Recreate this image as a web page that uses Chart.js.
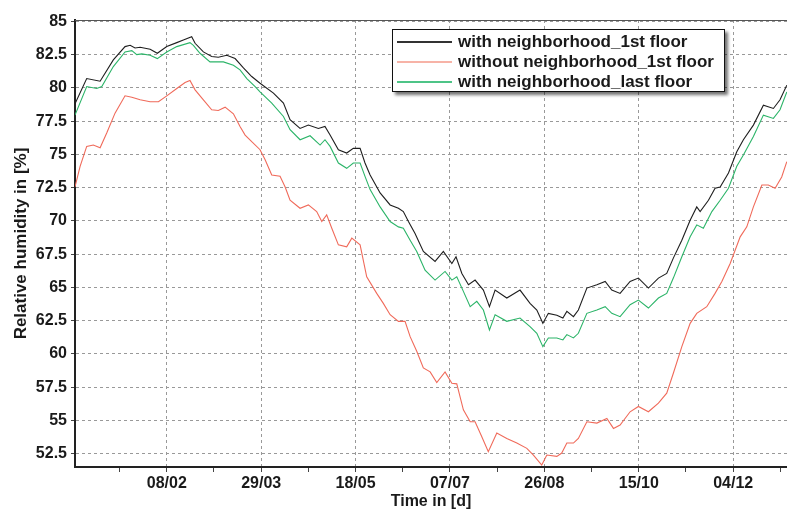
<!DOCTYPE html>
<html lang="en">
<head>
  <meta charset="UTF-8">
  <title>Relative humidity</title>
  <script src="https://cdn.jsdelivr.net/npm/chart.js"></script>
  <style>
    body { margin: 0; background: #fff; }
    #wrap { position: relative; width: 787px; height: 511px; }
    #legend {
      position: absolute; left: 392px; top: 29px; width: 331px; height: 61px;
      border: 1px solid #111; background: #fff;
      box-shadow: 3px 3px 3px rgba(0,0,0,0.55);
      font: bold 17px "Liberation Sans", Arial, sans-serif; color: #1a1a1a;
    }
    .row { position: absolute; left: 0; height: 20px; line-height: 20px; white-space: nowrap; }
    .swatch { position: absolute; left: 4px; top: 9px; width: 55px; height: 2px; }
    .txt { position: absolute; left: 65px; top: 0; }
  </style>
</head>
<body>
  <div id="wrap">
    <canvas id="chart"></canvas>
    <div id="legend"></div>
  </div>

  <script>
    const seriesNames = ['with neighborhood_1st floor', 'without neighborhood_1st floor', 'with neighborhood_last floor'];

    // x in days (0 = 01/01), y in %
    const daysWith1st = [-10.6, -4.4, 2.7, 9.7, 15.9, 18.6, 21.2, 23.9, 29.2, 33.0, 38, 43.3, 46.8, 51.2, 53.0, 57.4, 61.8, 65.3, 69.8, 74.2,
      78.6, 83.0, 87.4, 94.5, 99.8, 103.3, 108.6, 113.0, 118.3, 121.8, 124.5, 128.9, 133.3, 136.8, 140.4, 143.0, 145.7, 151.0, 156.3, 160.7,
      163.3, 166.0, 169.5, 173.9, 180.1, 184.5, 189.0, 191.2, 194.3, 197.8, 201.3, 205.7, 208.9, 211.9, 218.1, 225.1, 230.4, 234.0, 237.2, 240.1,
      244.6, 247.8, 249.9, 253.4, 256.0, 260.5, 265.8, 270.2, 273.7, 278.1, 283.4, 287.8, 293.1, 298.4, 302.8, 306.3, 310.8, 315.2, 318.7, 320.5,
      324.9, 328.4, 331.1, 335.5, 339.9, 343.4, 348.7, 354.0, 359.3, 362.8, 366.4];
    const rhWith1st = [78.8, 80.7, 80.5, 82.1, 83.1, 83.2, 83.0, 83.05, 82.9, 82.6, 83.1, 83.4, 83.6, 83.85, 83.35, 82.7, 82.35, 82.3, 82.45, 82.2,
      81.5, 80.85, 80.35, 79.6, 78.85, 77.6, 76.95, 77.2, 76.95, 77.1, 76.45, 75.35, 75.1, 75.45, 75.45, 74.35, 73.45, 72.1, 71.2, 70.95,
      70.7, 69.95, 69.05, 67.7, 66.95, 67.7, 66.8, 67.3, 66.05, 65.2, 65.55, 64.8, 63.55, 64.8, 64.2, 64.8, 63.8, 63.3, 62.3, 63.05,
      62.9, 62.7, 63.2, 62.8, 63.3, 64.95, 65.2, 65.45, 64.8, 64.55, 65.45, 65.7, 64.95, 65.7, 66.05, 67.2, 68.55, 70.05, 71.05, 70.7,
      71.55, 72.45, 72.55, 73.6, 75.2, 76.1, 77.2, 78.7, 78.45, 79.1, 80.2];

    const daysWithout1st = [-10.6, -7.9, -4.4, -0.9, 2.7, 6.2, 10.6, 15.9, 19.5, 23.9, 29.2, 33.6, 38, 43.3, 47.7, 50.3, 53.0, 57.4, 61.8, 65.3,
      68.9, 73.3, 76.8, 79.5, 83.0, 87.4, 90.1, 93.6, 98.0, 100.7, 103.3, 108.6, 113.0, 117.4, 120.1, 122.7, 125.4, 128.9, 133.3, 136.0,
      140.4, 143.9, 149.2, 152.7, 156.3, 160.7, 164.2, 166.9, 170.4, 173.9, 177.5, 181.0, 185.4, 189.0, 191.6, 195.1, 198.7, 201.3, 204.8, 208.3,
      212.8, 218.1, 223.4, 228.7, 232.2, 236.6, 239.3, 244.6, 247.2, 249.9, 253.4, 256.0, 260.5, 265.8, 271.1, 274.6, 278.1, 283.4, 287.8, 293.1,
      298.4, 302.8, 306.3, 310.8, 315.2, 318.7, 324.0, 328.4, 332.0, 336.4, 341.7, 345.2, 348.7, 353.2, 356.6, 360.2, 363.7, 366.4];
    const rhWithout1st = [72.55, 74.1, 75.6, 75.7, 75.5, 76.6, 78.1, 79.4, 79.3, 79.1, 78.95, 78.95, 79.4, 79.95, 80.4, 80.55, 79.85, 79.1, 78.35, 78.3,
      78.55, 78.05, 77.1, 76.45, 75.95, 75.35, 74.6, 73.45, 73.35, 72.55, 71.55, 70.95, 71.2, 70.7, 69.95, 70.45, 69.45, 68.2, 68.05, 68.7,
      68.2, 65.8, 64.55, 63.8, 62.95, 62.45, 62.45, 61.3, 60.2, 58.95, 58.65, 57.85, 58.65, 57.8, 57.75, 55.8, 54.9, 54.9, 53.8, 52.65,
      54.05, 53.65, 53.3, 52.9, 52.4, 51.65, 52.4, 52.3, 52.55, 53.3, 53.3, 53.65, 54.9, 54.8, 55.15, 54.4, 54.65, 55.65, 56.05, 55.65,
      56.3, 57.05, 58.55, 60.55, 62.3, 63.05, 63.55, 64.55, 65.45, 66.8, 68.8, 69.55, 71.05, 72.7, 72.7, 72.45, 73.3, 74.45];

    const daysWithLast = [-10.6, -4.4, 0.9, 3.6, 9.7, 15.9, 19.5, 22.1, 24.8, 29.2, 33.0, 38, 43.3, 50.3, 52.1, 55.6, 60.9, 68.0, 73.3, 76.8,
      80.4, 84.8, 87.4, 93.6, 99.8, 103.3, 108.6, 113.9, 119.2, 121.8, 124.5, 128.9, 133.3, 136.8, 140.4, 143.0, 145.7, 151.0, 156.3, 160.7,
      163.3, 166.9, 170.4, 174.8, 180.1, 185.4, 189.0, 191.6, 195.1, 198.7, 202.2, 205.7, 208.9, 211.9, 218.1, 225.1, 230.4, 234.0, 237.2, 240.1,
      244.6, 247.8, 249.9, 253.4, 256.0, 260.5, 265.8, 270.2, 273.7, 278.1, 283.4, 287.8, 293.1, 298.4, 302.8, 306.3, 310.8, 315.2, 318.7, 322.2,
      326.7, 331.1, 335.5, 339.9, 343.4, 348.7, 354.0, 359.3, 362.8, 366.4];
    const rhWithLast = [77.95, 80.1, 79.95, 80.1, 81.6, 82.7, 82.8, 82.5, 82.55, 82.45, 82.2, 82.7, 83.1, 83.4, 83.2, 82.6, 81.95, 81.95, 81.7, 81.35,
      80.7, 80.1, 79.7, 78.85, 77.85, 76.85, 76.1, 76.4, 75.7, 76.1, 75.6, 74.35, 73.95, 74.35, 74.35, 73.35, 72.35, 71.05, 69.95, 69.55,
      69.45, 68.55, 67.7, 66.3, 65.55, 66.2, 65.55, 65.8, 64.7, 63.55, 63.95, 63.3, 61.8, 62.95, 62.45, 62.7, 62.05, 61.55, 60.55, 61.2,
      61.2, 61.05, 61.45, 61.2, 61.55, 63.05, 63.3, 63.55, 63.05, 62.8, 63.7, 64.05, 63.45, 64.2, 64.55, 65.7, 67.3, 68.8, 69.7, 69.45,
      70.7, 71.55, 72.45, 74.1, 74.95, 76.35, 77.95, 77.7, 78.35, 79.7];

    const xTickDays = [38, 88, 138, 188, 238, 288, 338];
    const xTickLabels = ['08/02', '29/03', '18/05', '07/07', '26/08', '15/10', '04/12'];
    const yTicks = [52.5, 55, 57.5, 60, 62.5, 65, 67.5, 70, 72.5, 75, 77.5, 80, 82.5, 85];

    const lineColors = ['#1e1e1e', '#f06a5a', '#2bb468'];
    const legendColors = ['#333333', '#f7b3a7', '#4ec487'];

    function pts(xs, ys) {
      return xs.map((x, i) => ({ x: x, y: ys[i] }));
    }

    const font = { family: '"Liberation Sans", Arial, sans-serif', weight: 'bold', size: 16 };

    // top frame line of the plot area
    const frameTop = {
      id: 'frameTop',
      afterDraw(chart) {
        const a = chart.chartArea, ctx = chart.ctx;
        ctx.save();
        ctx.strokeStyle = '#555';
        ctx.lineWidth = 1;
        ctx.beginPath();
        ctx.moveTo(a.left, a.top + 0.5);
        ctx.lineTo(a.right, a.top + 0.5);
        ctx.stroke();
        ctx.restore();
      }
    };

    new Chart(document.getElementById('chart'), {
      type: 'line',
      data: {
        datasets: [
          { label: seriesNames[0], data: pts(daysWith1st, rhWith1st), borderColor: lineColors[0] },
          { label: seriesNames[1], data: pts(daysWithout1st, rhWithout1st), borderColor: lineColors[1] },
          { label: seriesNames[2], data: pts(daysWithLast, rhWithLast), borderColor: lineColors[2] }
        ]
      },
      options: {
        responsive: true,
        maintainAspectRatio: false,
        animation: false,
        layout: { padding: { top: 20, right: 0, left: 0, bottom: 0 } },
        elements: {
          line: { borderWidth: 1.1, tension: 0 },
          point: { radius: 0 }
        },
        plugins: {
          legend: { display: false },
          tooltip: { enabled: false }
        },
        scales: {
          x: {
            type: 'linear',
            min: -10.6,
            max: 366.5,
            afterFit: s => { s.height = 44; },
            afterBuildTicks: s => {
              const t = [];
              xTickDays.forEach(d => { t.push({ value: d - 25 }); t.push({ value: d }); });
              t.push({ value: xTickDays[xTickDays.length - 1] + 25 });
              s.ticks = t;
            },
            ticks: {
              autoSkip: false,
              maxRotation: 0,
              padding: 2,
              color: '#1a1a1a',
              font: font,
              callback: v => {
                const i = xTickDays.indexOf(v);
                return i >= 0 ? xTickLabels[i] : '';
              }
            },
            grid: {
              color: c => (c.tick && xTickDays.indexOf(c.tick.value) >= 0) ? '#999' : 'rgba(0,0,0,0)',
              tickColor: '#444',
              tickLength: 5,
              lineWidth: 1
            },
            border: { color: '#222', width: 2, dash: [3, 3] },
            title: {
              display: true,
              text: 'Time in [d]',
              color: '#1a1a1a',
              font: { family: font.family, weight: 'bold', size: 16 },
              padding: { top: 0, bottom: 0 }
            }
          },
          y: {
            min: 51.5,
            max: 85.1,
            afterFit: s => { s.width = 75; },
            afterBuildTicks: s => { s.ticks = yTicks.map(v => ({ value: v })); },
            ticks: {
              padding: 4,
              color: '#1a1a1a',
              font: font,
              callback: v => String(v)
            },
            grid: {
              color: '#999',
              tickColor: '#444',
              tickLength: 4,
              lineWidth: 1
            },
            border: { color: '#222', width: 2, dash: [3, 3] },
            title: {
              display: true,
              text: 'Relative humidity in [%]',
              color: '#1a1a1a',
              font: { family: font.family, weight: 'bold', size: 17 },
              padding: { top: 11, bottom: 0 }
            }
          }
        }
      },
      plugins: [frameTop]
    });

    // legend box inside the plot
    const legend = document.getElementById('legend');
    seriesNames.forEach((name, i) => {
      const row = document.createElement('div');
      row.className = 'row';
      row.style.top = (2 + i * 20) + 'px';
      row.innerHTML = '<div class="swatch" style="background:' + legendColors[i] + '"></div><div class="txt"></div>';
      row.querySelector('.txt').textContent = name;
      legend.appendChild(row);
    });
  </script>
</body>
</html>
